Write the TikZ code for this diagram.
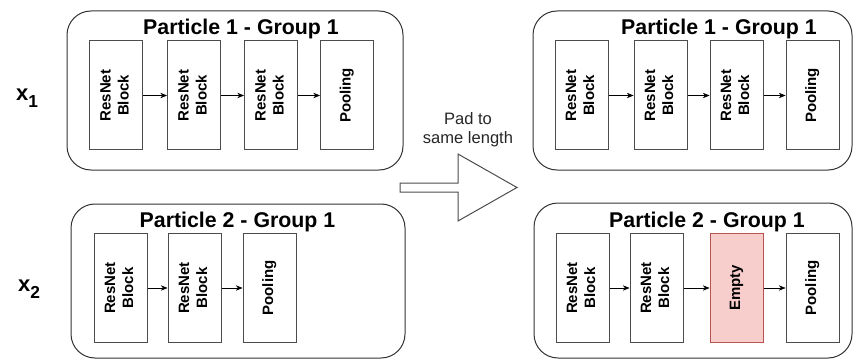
\documentclass[tikz,border=0pt]{standalone}
\usepackage{fontspec}
\setmainfont{Liberation Sans}
\usetikzlibrary{positioning,arrows.meta}
\definecolor{emptyfill}{HTML}{F8CECC}
\definecolor{emptydraw}{HTML}{B85450}
\tikzset{
  block/.style={draw=black!70, line width=0.75pt, fill=white, minimum width=39.75pt, minimum height=81.75pt, inner sep=0pt, font=\fontsize{11.25}{13.5}\selectfont\bfseries},
  emptyblock/.style={block, draw=emptydraw, fill=emptyfill},
  group/.style={draw=black!80, line width=0.75pt, rounded corners=18pt},
  title/.style={font=\fontsize{16}{19}\selectfont\bfseries},
  varlabel/.style={font=\fontsize{16.5}{20}\selectfont\bfseries},
}
\newcommand{\vlabel}[1]{\rotatebox{90}{\begin{tabular}{@{}c@{}}#1\end{tabular}}}
\newcommand{\subidx}[1]{\raisebox{-5.5pt}{\fontsize{13}{15}\selectfont #1}}
\begin{document}
\begin{tikzpicture}[x=0.75pt, y=-0.75pt, node distance=17.25pt, >={Stealth[length=5pt,width=4pt]}]
\useasboundingbox (0,0) rectangle (854,360);
\draw[group] (67,11) rectangle (403,170);
\draw[group] (71,204) rectangle (405,358);
\draw[group] (533,11) rectangle (852,170);
\draw[group] (534,203) rectangle (852,358);
\node[title] (T1) at (241,29) {Particle 1 - Group 1};
\node[title] (T2) at (237.5,222) {Particle 2 - Group 1};
\node[title] (T3) at (719,29) {Particle 1 - Group 1};
\node[title] (T4) at (707,222) {Particle 2 - Group 1};
\node[varlabel] (x1) at (27,98) {x\subidx{1}};
\node[varlabel] (x2) at (29,289.5) {x\subidx{2}};
\node[block] (A1) at (116,95.5) {\vlabel{ResNet\\Block}};
\node[block, right=18pt of A1] (A2) {\vlabel{ResNet\\Block}};
\node[block, right=17.25pt of A2] (A3) {\vlabel{ResNet\\Block}};
\node[block, right=16.5pt of A3] (A4) {\vlabel{Pooling}};
\node[block] (B1) at (120.5,288) {\vlabel{ResNet\\Block}};
\node[block, right=15pt of B1] (B2) {\vlabel{ResNet\\Block}};
\node[block, right=15.75pt of B2] (B3) {\vlabel{Pooling}};
\node[block] (C1) at (581.5,95.5) {\vlabel{ResNet\\Block}};
\node[block, right=18.75pt of C1] (C2) {\vlabel{ResNet\\Block}};
\node[block, right=16.5pt of C2] (C3) {\vlabel{ResNet\\Block}};
\node[block, right=16.5pt of C3] (C4) {\vlabel{Pooling}};
\node[block] (D1) at (582.5,288) {\vlabel{ResNet\\Block}};
\node[block, right=15pt of D1] (D2) {\vlabel{ResNet\\Block}};
\node[emptyblock, right=19.5pt of D2] (D3) {\vlabel{Empty}};
\node[block, right=16.5pt of D3] (D4) {\vlabel{Pooling}};
\draw[->] (A1) -- (A2);
\draw[->] (A2) -- (A3);
\draw[->] (A3) -- (A4);
\draw[->] (B1) -- (B2);
\draw[->] (B2) -- (B3);
\draw[->] (C1) -- (C2);
\draw[->] (C2) -- (C3);
\draw[->] (C3) -- (C4);
\draw[->] (D1) -- (D2);
\draw[->] (D2) -- (D3);
\draw[->] (D3) -- (D4);
\node[align=center, font=\fontsize{12.4}{14.3}\selectfont, text=black!85] (pad) at (468,130) {Pad to\\same length};
\draw[draw=black!70, line width=0.75pt] (400,183) -- (458,183) -- (458,154) -- (517,187.5) -- (458,221) -- (458,192) -- (400,192) -- cycle;
\end{tikzpicture}
\end{document}
